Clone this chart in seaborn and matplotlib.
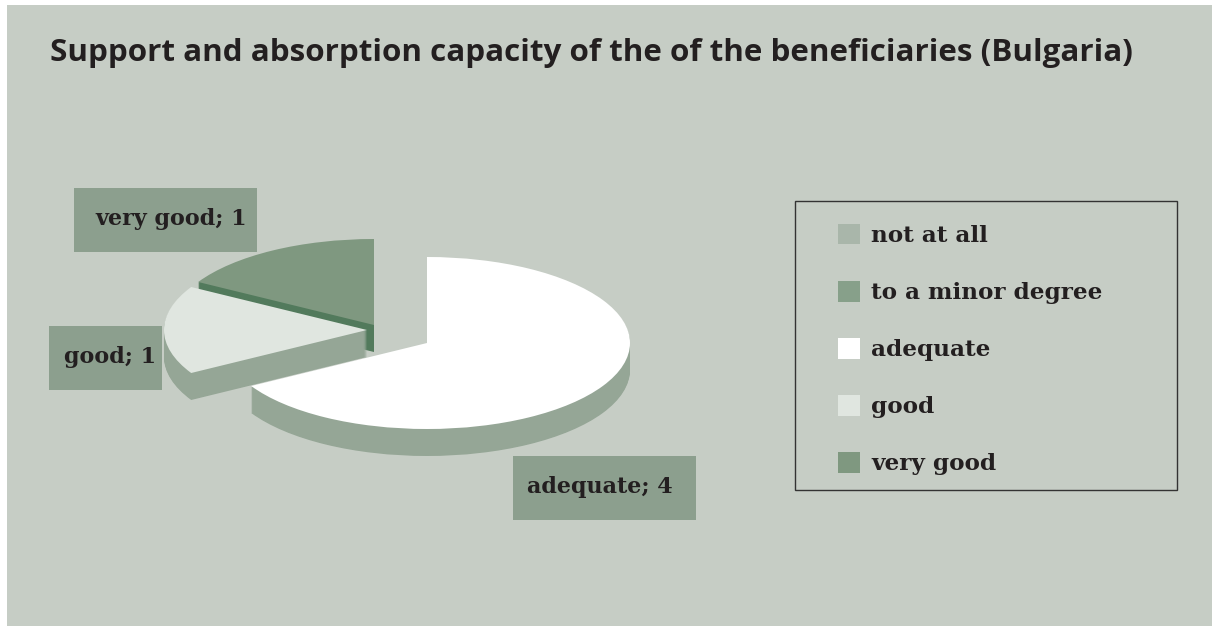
import matplotlib
matplotlib.use('Agg')
import matplotlib.pyplot as plt
from matplotlib.patches import Patch, Rectangle
import seaborn as sns

sns.set_theme(style="white")

# data
categories = ['not at all', 'to a minor degree', 'adequate', 'good', 'very good']
values = [0, 0, 4, 1, 1]
top_colors = ['#a9b6aa', '#87a08a', '#ffffff', '#e0e6e0', '#7f9880']
side_colors = ['#a9b6aa', '#87a08a', '#95a696', '#95a696', '#527a5c']
title = 'Support and absorption capacity of the of the beneficiaries (Bulgaria)'

# layout, in pixels of the 1212x626 picture
W, H = 1212, 626
CX, CY = 427, 343
RX, RY = 203, 86
DEPTH = 27
# pull-out of the slices from the pie centre
offsets = {'adequate': (0, 0), 'good': (-60, -13), 'very good': (-53, -18)}
# box x, y, w, h and the left edge of its text
label_boxes = {
    'very good': (74, 188, 183, 64, 95),
    'good': (49, 326, 113, 64, 64),
    'adequate': (513, 456, 183, 64, 527),
}
BG = '#c6cdc5'
BOX = '#8c9f8e'
TXT = '#231f20'
SERIF = 'DejaVu Serif'

fig = plt.figure(figsize=(W / 100, H / 100), dpi=100, facecolor='white')

# panel behind everything
fig.add_artist(Rectangle((7 / W, 0), 1 - 7 / W, 1 - 5 / H, transform=fig.transFigure,
                         facecolor=BG, edgecolor='none', zorder=-1))

ax = fig.add_axes([0, 0, 1, 1])
ax.patch.set_alpha(0)


def px(x, y):
    # picture pixels to pie data units (radius 1 -> RX, RY)
    return (x - CX) / RX, (CY - y) / RY


total = sum(values)
# angle runs clockwise from 12 o'clock
start = {}
a = 90
for c, v in zip(categories, values):
    start[c] = a
    a -= v / total * 360

# back slices first so the front ones cover them
for c in ['very good', 'good', 'adequate']:
    i = categories.index(c)
    v = values[i]
    dx, dy = offsets[c]
    for d in range(DEPTH, 0, -1):
        ax.pie([v, total - v], startangle=start[c] - v / total * 360, counterclock=True,
               colors=[side_colors[i], 'none'], radius=1,
               center=((dx) / RX, (-dy - d) / RY), wedgeprops=dict(linewidth=0))
    ax.pie([v, total - v], startangle=start[c] - v / total * 360, counterclock=True,
           colors=[top_colors[i], 'none'], radius=1,
           center=(dx / RX, -dy / RY), wedgeprops=dict(linewidth=0))

ax.set_aspect('auto')
x0, y1 = px(0, 0)
x1, y0 = px(W, H)
ax.set_xlim(x0, x1)
ax.set_ylim(y0, y1)
ax.axis('off')

# data labels
for c, (x, y, w, h, tx) in label_boxes.items():
    fig.add_artist(Rectangle((x / W, 1 - (y + h) / H), w / W, h / H, transform=fig.transFigure,
                             facecolor=BOX, edgecolor='none', zorder=5))
    fig.text(tx / W, 1 - (y + h / 2 - 1) / H, f'{c}; {values[categories.index(c)]}',
             ha='left', va='center', fontsize=16, fontweight='bold', family=SERIF,
             color=TXT, zorder=6)

# legend
fig.add_artist(Rectangle((795 / W, 1 - 490 / H), 382 / W, 289 / H, transform=fig.transFigure,
                         facecolor='none', edgecolor='#333333', linewidth=1))
handles = [Patch(facecolor=col, edgecolor='none') for col in top_colors]
fig.legend(handles, categories, loc='upper left', bbox_to_anchor=(838 / W, 1 - 224 / H),
           frameon=False, prop=dict(family=SERIF, weight='bold', size=16.7),
           labelcolor=TXT, handlelength=0.95, handleheight=0.98, handletextpad=0.47,
           labelspacing=1.46, borderpad=0, borderaxespad=0)

fig.text(50 / W, 1 - 53 / H, title, ha='left', va='center', fontsize=22.6,
         fontweight='bold', family='Open Sans', color=TXT)

fig.savefig('out.png', dpi=100)
